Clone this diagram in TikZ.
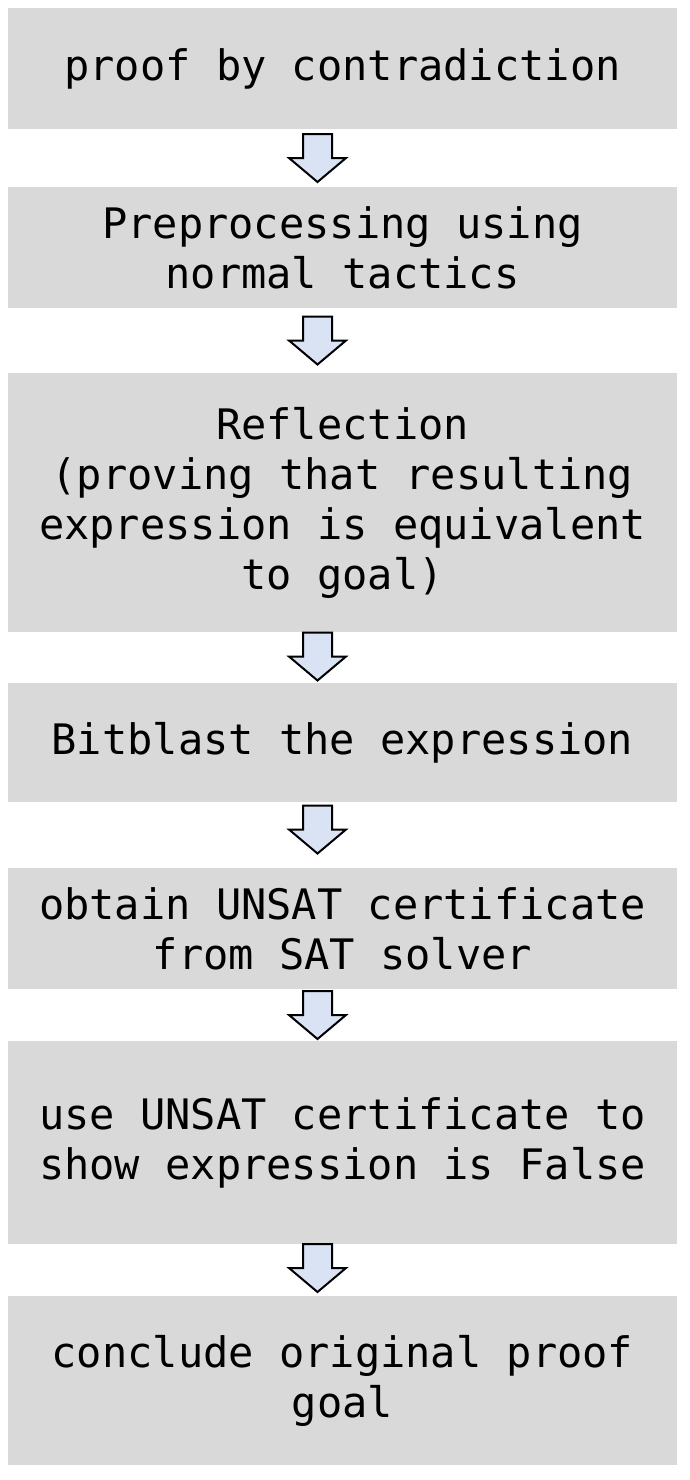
\documentclass[tikz,border=0pt]{standalone}
\usepackage{fontspec}
\setmonofont{DejaVu Sans Mono}
\usetikzlibrary{calc}
\definecolor{boxgray}{RGB}{217,217,217}
\definecolor{arrowblue}{RGB}{218,227,243}
\tikzset{
  stepbox/.style={fill=boxgray, minimum width=669pt, inner sep=0pt, align=center,
    font=\ttfamily\fontsize{42}{50}\selectfont},
  flowarrow/.pic={
    \draw[fill=arrowblue, line width=2pt, line join=miter]
      (-14.5,24) -- (14.5,24) -- (14.5,0) -- (28.5,0) -- (0,-24) -- (-28.5,0) -- (-14.5,0) -- cycle;
  }
}
\begin{document}
\begin{tikzpicture}[x=1pt, y=1pt]
    \useasboundingbox (0,0) rectangle (690,-1480);

    % Steps
    \node[stepbox, minimum height=121pt] (proof) at (342.5,-68.5) {proof by contradiction};
    \node[stepbox, minimum height=121pt] (prep) at (342.5,-247.5) {Preprocessing using\\normal tactics};
    \node[stepbox, minimum height=259pt] (reflect) at (342.5,-502.5) {Reflection\\(proving that resulting\\expression is equivalent\\to goal)};
    \node[stepbox, minimum height=119pt] (blast) at (342.5,-742.5) {Bitblast the expression};
    \node[stepbox, minimum height=121pt] (cert) at (342.5,-928.5) {obtain UNSAT certificate\\from SAT solver};
    \node[stepbox, minimum height=203pt] (usecert) at (342.5,-1142.5) {use UNSAT certificate to\\show expression is False};
    \node[stepbox, minimum height=169pt] (concl) at (342.5,-1380.5) {conclude original proof\\goal};

    % Block arrows between the steps
    \pic at ($(proof.south)!0.5!(prep.north)+(-25,0)$) {flowarrow};
    \pic at ($(prep.south)!0.5!(reflect.north)+(-25,0)$) {flowarrow};
    \pic at ($(reflect.south)!0.5!(blast.north)+(-25,1)$) {flowarrow};
    \pic at ($(blast.south)!0.5!(cert.north)+(-25,5.5)$) {flowarrow};
    \pic at ($(cert.south)!0.5!(usecert.north)+(-25,0)$) {flowarrow};
    \pic at ($(usecert.south)!0.5!(concl.north)+(-25,2)$) {flowarrow};
\end{tikzpicture}
\end{document}
